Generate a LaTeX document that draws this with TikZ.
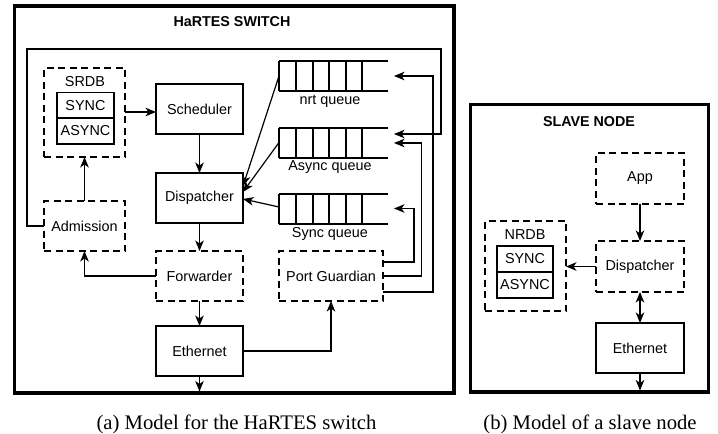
\documentclass[tikz,border=0pt]{standalone}
\usepackage{fontspec}
\setmainfont{Liberation Serif}
\newfontfamily\diagfont{Liberation Sans}
\usetikzlibrary{arrows.meta,calc}

\tikzset{
  box/.style={draw, line width=2pt, rectangle, inner sep=0pt, outer sep=0pt,
              font=\diagfont\fontsize{14.4}{16}\selectfont},
  dbox/.style={box, dash pattern=on 7pt off 4.5pt},
  cell/.style={draw, line width=1.2pt, rectangle, inner sep=0pt, outer sep=0pt,
               minimum width=57pt, minimum height=26pt,
               font=\diagfont\fontsize{14.4}{16}\selectfont},
  frame/.style={draw, line width=3.4pt},
  title/.style={font=\diagfont\bfseries\fontsize{14.3}{16}\selectfont, inner sep=0pt},
  lbl/.style={font=\diagfont\fontsize{14.4}{16}\selectfont, inner sep=0pt},
  caption/.style={font=\fontsize{20.7}{24}\selectfont, inner sep=0pt, anchor=base},
  wire/.style={line width=1.2pt},
  tip/.style={Stealth[length=10.5pt,width=8.5pt,inset=3pt]},
  arr/.style={wire, -{Stealth[length=10.5pt,width=8.5pt,inset=3pt]}},
  darr/.style={wire, {Stealth[length=10.5pt,width=8.5pt,inset=3pt]}-{Stealth[length=10.5pt,width=8.5pt,inset=3pt]}},
  qedge/.style={line width=2pt},
  qcell/.style={line width=1.2pt},
  qslot/.style={inner sep=0pt, outer sep=0pt, minimum width=109pt, minimum height=30pt}
}

\begin{document}
\begin{tikzpicture}[x=1pt, y=-1pt]
\useasboundingbox (0,0) rectangle (718,434);

% ---------------- switch ----------------
\draw[frame] (14.3,5.8) rectangle (454,393);
\node[title] (swtitle) at (232,22) {HaRTES SWITCH};

\node[dbox, minimum width=81pt, minimum height=89pt] (srdb) at (84.5,112.5) {};
\node[lbl] (srdbl) at (85,82) {SRDB};
\node[cell] (srdbs) at (85.5,105.5) {SYNC};
\node[cell] (srdba) at (85.5,131) {ASYNC};

\node[box, minimum width=87pt, minimum height=50pt] (sched) at (199.5,109) {Scheduler};
\node[box, minimum width=87pt, minimum height=50pt] (disp) at (199.5,198) {Dispatcher};
\node[dbox, minimum width=87pt, minimum height=50pt] (fwd) at (199.5,276) {Forwarder};
\node[box, minimum width=87pt, minimum height=50pt] (eth) at (199.5,351) {Ethernet};
\node[dbox, minimum width=81pt, minimum height=50pt] (adm) at (84.5,226) {Admission};
\node[dbox, minimum width=104pt, minimum height=50pt] (pg) at (331,276) {Port Guardian};

% queues: open at the right end
\foreach \q/\yc/\name in {nrtq/76/nrt queue, asyncq/142.5/Async queue, syncq/208.5/Sync queue}{
  \node[qslot] (\q) at (333.5,\yc) {};
  \draw[qedge] (\q.north east) -- (\q.north west);
  \draw[qedge] (\q.south east) -- (\q.south west);
  \draw[qcell] (\q.north west) -- (\q.south west);
  \foreach \dx in {17,34,50,67,83}{
    \draw[qcell] ([xshift=\dx pt]\q.north west) -- ([xshift=\dx pt]\q.south west);
  }
  \node[lbl] (\q l) at (330,\yc+25) {\name};
}

\coordinate (swout) at (199.5,391.5);
\coordinate (loopA) at (27,49);
\coordinate (loopB) at (441,49);

\draw[arr] (srdb.east |- 0,112) -- (sched.west |- 0,112);
\draw[arr] (sched) -- (disp);
\draw[arr] (disp) -- (fwd);
\draw[arr] (fwd) -- (eth);
\draw[arr] (eth) -- (swout);
\draw[arr] (adm.north) -- (srdb.south);
\draw[arr] (fwd.west) -| (adm.south);
\draw[arr] (eth.east) -| (pg.south);

\draw[arr] (nrtq.west) -- ([yshift=12pt]disp.east);
\draw[arr] (asyncq.west) -- ([yshift=6pt]disp.east);
\draw[arr] ([yshift=1.5pt]syncq.west) -- ([yshift=-1pt]disp.east);

\draw[arr] ([yshift=14pt]pg.east) -- ++(31,0) |- ([xshift=6pt]syncq.east);
\draw[arr] (pg.east) -- ++(38.5,0) |- ([xshift=6pt,yshift=-0.5pt]asyncq.east);
\draw[arr] ([yshift=-16pt]pg.east) -- ++(50,0) |- ([xshift=6pt]nrtq.east);
\draw[arr] (adm.west) -| (loopA) -- (loopB) |- ([xshift=6pt,yshift=8.5pt]asyncq.east);

% ---------------- slave node ----------------
\draw[frame] (470.7,104.3) rectangle (708.3,392);
\node[title] (sltitle) at (589,122) {SLAVE NODE};

\node[dbox, minimum width=88pt, minimum height=51pt] (app) at (640,178.5) {App};
\node[dbox, minimum width=88pt, minimum height=51pt] (sdisp) at (640,266.5) {Dispatcher};
\node[box, minimum width=88pt, minimum height=50pt] (seth) at (640,348) {Ethernet};
\node[dbox, minimum width=81pt, minimum height=90pt] (nrdb) at (525.5,266) {};
\node[lbl] (nrdbl) at (525,235) {NRDB};
\node[cell, minimum width=56pt] (nrdbs) at (525,259) {SYNC};
\node[cell, minimum width=56pt] (nrdba) at (525,285) {ASYNC};

\coordinate (slout) at (640,390.5);
\draw[arr] (app) -- (sdisp);
\draw[darr] (sdisp) -- (seth);
\draw[arr] (seth) -- (slout);
\draw[arr] (sdisp.west) -- (nrdb.east |- sdisp.west);

% ---------------- captions ----------------
\node[caption] (capa) at (236.5,429) {(a) Model for the HaRTES switch};
\node[caption] (capb) at (590,429) {(b) Model of a slave node};
\end{tikzpicture}
\end{document}
